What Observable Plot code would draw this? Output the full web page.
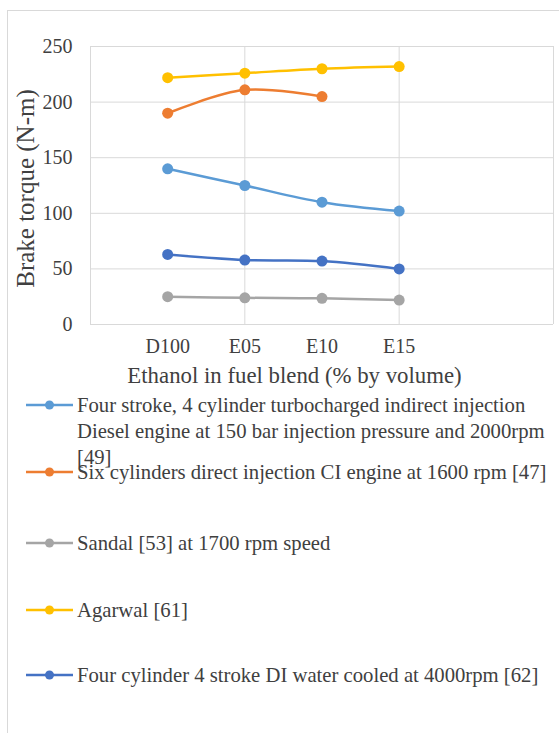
<!DOCTYPE html>
<html><head><meta charset="utf-8">
<script src="https://cdn.jsdelivr.net/npm/d3@7"></script>
<script src="https://cdn.jsdelivr.net/npm/@observablehq/plot@0.6"></script>
<style>
html,body{margin:0;padding:0;background:#fff;overflow:hidden;width:559px;height:733px;}
#frame{position:absolute;left:7px;top:10px;width:600px;height:800px;border:1px solid #d9d9d9;box-sizing:border-box;}
#chart{position:absolute;left:0;top:0;}
#legend{position:absolute;left:0;top:0;width:559px;height:733px;font-family:"Liberation Serif";font-size:20.7px;color:#404040;}
.item{position:absolute;left:26px;}
.item svg{position:absolute;left:0;top:0;}
.item .lbl{position:absolute;left:51px;top:0;white-space:pre;line-height:26px;}
</style>
</head><body>
<div id="frame"></div>
<div id="chart"></div>
<div id="legend"></div>
<script>
const categories = ["D100", "E05", "E10", "E15"];
const seriesNames = [
  "Four stroke, 4 cylinder turbocharged indirect injection\nDiesel engine at 150 bar injection pressure and 2000rpm\n[49]",
  "Six cylinders direct injection CI engine at 1600 rpm [47]",
  "Sandal [53] at 1700 rpm speed",
  "Agarwal [61]",
  "Four cylinder 4 stroke DI water cooled at 4000rpm [62]"
];
const fourStrokeTurbo = [140, 125, 110, 102];
const sixCylinderCI = [190, 211, 205];
const sandal = [25, 24, 23.5, 22];
const agarwal = [222, 226, 230, 232];
const fourCylinderDI = [63, 58, 57, 50];
const yTicks = [0, 50, 100, 150, 200, 250];
const xTitle = "Ethanol in fuel blend (% by volume)";
const yTitle = "Brake torque (N-m)";
const colors = ["#5B9BD5", "#ED7D31", "#A5A5A5", "#FFC000", "#4472C4"];

const seriesValues = [fourStrokeTurbo, sixCylinderCI, sandal, agarwal, fourCylinderDI];
const rows = seriesValues.map((vals, s) => vals.map((v, i) => ({pos: i + 1, cat: categories[i], value: v, series: s})));
const xMax = categories.length + 2;
const xGrid = d3.range(0, xMax + 1, 2);

const marks = [
  Plot.ruleY(yTicks, {stroke: "#d9d9d9", strokeWidth: 1}),
  Plot.ruleX(xGrid, {stroke: "#d9d9d9", strokeWidth: 1})
];
rows.forEach((data, s) => {
  marks.push(Plot.line(data, {x: "pos", y: "value", stroke: colors[s], strokeWidth: 2.5, curve: "catmull-rom"}));
  marks.push(Plot.dot(data, {x: "pos", y: "value", fill: colors[s], r: 5.5}));
});
marks.push(Plot.text([xTitle], {text: d => d, frameAnchor: "bottom", textAnchor: "middle", lineAnchor: "middle", dx: -27.5, dy: 51.7, fontSize: 22.8, fill: "#404040"}));
marks.push(Plot.text([yTitle], {text: d => d, frameAnchor: "left", textAnchor: "middle", lineAnchor: "middle", rotate: -90, dx: -65, dy: 3, fontSize: 25, fill: "#404040"}));

const chart = Plot.plot({
  width: 559, height: 400,
  marginLeft: 90, marginTop: 46, marginRight: 6, marginBottom: 76,
  style: {fontFamily: "Liberation Serif", fontSize: "20px", color: "#404040", background: "transparent", overflow: "visible"},
  x: {domain: [0, xMax], ticks: categories.map((c, i) => i + 1), tickFormat: d => categories[d - 1], tickSize: 0, tickPadding: 14, label: null},
  y: {domain: [0, 250], ticks: yTicks, tickSize: 0, tickPadding: 18, label: null},
  marks
});
document.getElementById("chart").appendChild(chart);

const legendTops = [392, 459, 529.5, 597, 662];
const legend = d3.select("#legend");
seriesNames.forEach((name, s) => {
  const item = legend.append("div").attr("class", "item").style("top", legendTops[s] + "px");
  const svg = item.append("svg").attr("width", 48).attr("height", 26);
  svg.append("line").attr("x1", 0).attr("x2", 47).attr("y1", 13).attr("y2", 13).attr("stroke", colors[s]).attr("stroke-width", 2.5);
  svg.append("circle").attr("cx", 23.5).attr("cy", 13).attr("r", 4.5).attr("fill", colors[s]);
  item.append("div").attr("class", "lbl").text(name);
});
</script>
</body></html>
